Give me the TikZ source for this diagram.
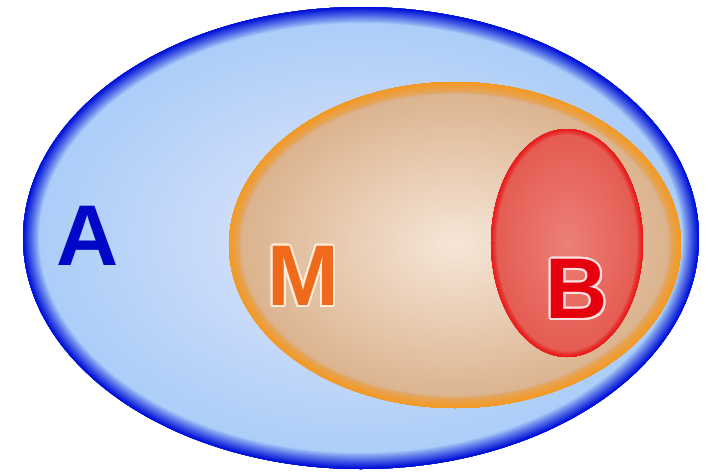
\documentclass[tikz,border=0pt]{standalone}
\usepackage{fontspec}
\setsansfont{Liberation Sans}
\usepackage{contour}
\contourlength{0.6pt}
\usetikzlibrary{positioning}

\definecolor{Ain}{HTML}{E4E6FA}
\definecolor{Aout}{HTML}{A8CCF8}
\definecolor{Arim}{HTML}{0010D8}
\definecolor{Aink}{HTML}{0008C8}
\definecolor{Min}{HTML}{F6E6D8}
\definecolor{Mout}{HTML}{DAB08A}
\definecolor{Mrim}{HTML}{F39A26}
\definecolor{Mink}{HTML}{F06A1C}
\definecolor{Bin}{HTML}{EC8078}
\definecolor{Bout}{HTML}{E45A50}
\definecolor{Brim}{HTML}{EA1A1A}
\definecolor{Bink}{HTML}{E6000E}

% soft inner rim of an ellipse: {centre}{rx}{ry}{band width in pt}{edge colour}{fill colour}{ramp}
\newcommand{\softrim}[7]{
	\begin{scope}
		\clip #1 ellipse (#2 and #3);
		\foreach \i in {0,...,14}{
			\pgfmathsetmacro\w{2*#4*(1-\i/15)}
			\pgfmathsetmacro\p{100*(\i/14)^#7}
			\draw[line width=\w pt, #5!\p!#6] #1 ellipse (#2 and #3);
		}
	\end{scope}
}

\tikzset{
	setlabel/.style={font=\sffamily\bfseries\fontsize{24.5}{24.5}\selectfont, inner sep=0pt}
}

\begin{document}
\begin{tikzpicture}[x=0.01cm, y=-0.01cm]
	\useasboundingbox (0,0) rectangle (705,475);
	% set A
	\path[inner color=Ain, outer color=Aout] (361,238) ellipse (338 and 231);
	\softrim{(361,238)}{338}{231}{4.8}{Arim}{Aout}{0.9}
	% set M
	\path[inner color=Min, outer color=Mout] (455,245) ellipse (226 and 163);
	\softrim{(455,245)}{226}{163}{3.4}{Mrim}{Mout}{0.5}
	% set B
	\path[inner color=Bin, outer color=Bout] (567,243) ellipse (76 and 114);
	\softrim{(567,243)}{76}{114}{1.6}{Brim}{Bout}{0.7}
	%
	\node[setlabel, text=Aink] (labA) at (88,236) {A};
	\node[setlabel, text=Mink] (labM) at (303,277) {\contour{orange!15}{M}};
	\node[setlabel, text=Bink] (labB) at (577,290) {\contour{red!12}{B}};
\end{tikzpicture}
\end{document}
